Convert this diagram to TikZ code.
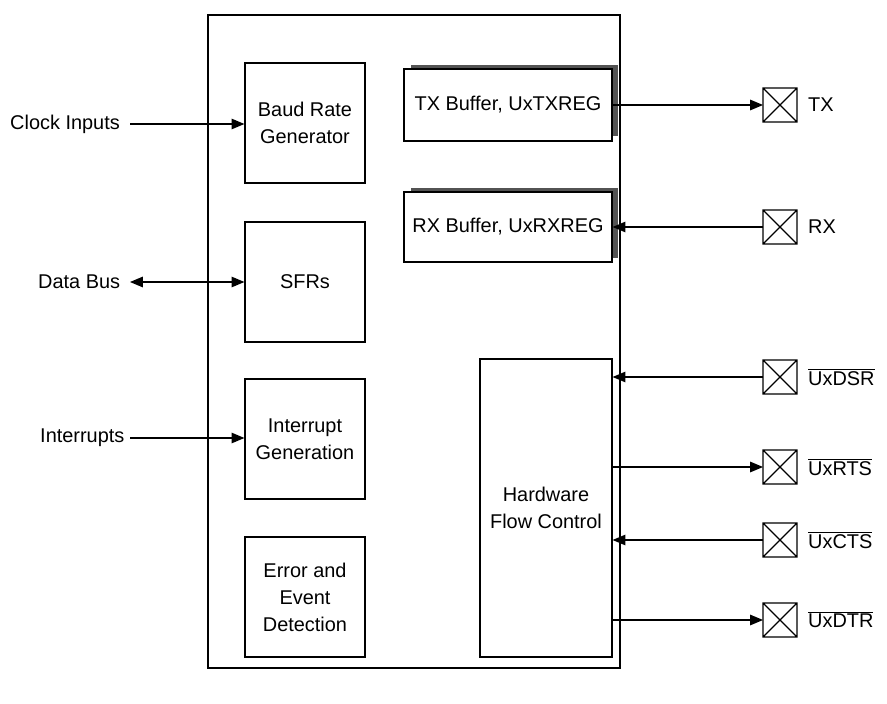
\documentclass[tikz,border=0pt]{standalone}
\usepackage{fontspec}
\setmainfont{Liberation Sans}
\usetikzlibrary{positioning,arrows.meta}
\tikzset{
	blk/.style = {draw, line width=1pt, align=center, inner sep=0pt},
	buf/.style = {blk, fill=white},
	sig/.style = {-{Triangle[length=11pt,width=9pt]}, line width=1pt},
	pin/.pic = {
	 \draw [line width=1pt] (-0.5,-0.5) rectangle (0.5,0.5) (-0.5,-0.5) -- (0.5,0.5) (-0.5,0.5) -- (0.5,-0.5);
	 \coordinate (-w) at (-0.5,0);
	 \coordinate (-e) at (0.5,0);
	 }
	}

\begin{document}
\begin{tikzpicture}[x=0.03cm, y=-0.03cm, font=\fontsize{17}{23}\selectfont]
\useasboundingbox (0,0) rectangle (887,704);

% NODES
% outer box
\draw [line width=1pt] (208,15) rectangle (620,668);
% left column
\node (baud) [blk, minimum width=3.6cm, minimum height=3.6cm] at (305,123) {Baud Rate\\Generator};
\node (sfr) [blk, minimum width=3.6cm, minimum height=3.6cm] at (305,282) {SFRs};
\node (intg) [blk, minimum width=3.6cm, minimum height=3.6cm] at (305,439) {Interrupt\\Generation};
\node (err) [blk, minimum width=3.6cm, minimum height=3.6cm] at (305,597) {Error and\\Event\\Detection};
% buffers with shadow
\fill [gray!65!black] (411,65) rectangle (618,136);
\node (txb) [buf, minimum width=6.24cm, minimum height=2.16cm] at (508,105) {TX Buffer, UxTXREG};
\fill [gray!65!black] (411,188) rectangle (618,258);
\node (rxb) [buf, minimum width=6.24cm, minimum height=2.1cm] at (508,227) {RX Buffer, UxRXREG};
% flow control
\node (hfc) [blk, minimum width=3.96cm, minimum height=8.94cm] at (546,508) {Hardware\\Flow Control};
% inputs
\node (clk) [anchor=west, inner sep=0pt] at (10,124) {Clock Inputs};
\node (bus) [anchor=west, inner sep=0pt] at (38,282) {Data Bus};
\node (irq) [anchor=west, inner sep=0pt] at (40,438) {Interrupts};
\coordinate (clk-a) at (130,124);
\coordinate (bus-a) at (130,282);
\coordinate (irq-a) at (130,438);
% pins
\pic [scale=34] (tx) at (780,105) {pin};
\pic [scale=34] (rx) at (780,227) {pin};
\pic [scale=34] (dsr) at (780,377) {pin};
\pic [scale=34] (rts) at (780,467) {pin};
\pic [scale=34] (cts) at (780,540) {pin};
\pic [scale=34] (dtr) at (780,620) {pin};
\node (txl) [right=6pt of tx-e] {TX};
\node (rxl) [right=6pt of rx-e] {RX};
\node (dsrl) [right=6pt of dsr-e] {$\overline{\mbox{UxDSR}}$};
\node (rtsl) [right=6pt of rts-e] {$\overline{\mbox{UxRTS}}$};
\node (ctsl) [right=6pt of cts-e] {$\overline{\mbox{UxCTS}}$};
\node (dtrl) [right=6pt of dtr-e] {$\overline{\mbox{UxDTR}}$};

% CONNECTIONS
\draw [sig] (clk-a) -- (clk-a -| baud.west);
\draw [sig, {Triangle[length=11pt,width=9pt]}-{Triangle[length=11pt,width=9pt]}] (bus-a) -- (bus-a -| sfr.west);
\draw [sig] (irq-a) -- (irq-a -| intg.west);
\draw [sig] (txb.east) -- (tx-w);
\draw [sig] (rx-w) -- (rxb.east);
\draw [sig] (dsr-w) -- (dsr-w -| hfc.east);
\draw [sig] (rts-w -| hfc.east) -- (rts-w);
\draw [sig] (cts-w) -- (cts-w -| hfc.east);
\draw [sig] (dtr-w -| hfc.east) -- (dtr-w);
\end{tikzpicture}
\end{document}
